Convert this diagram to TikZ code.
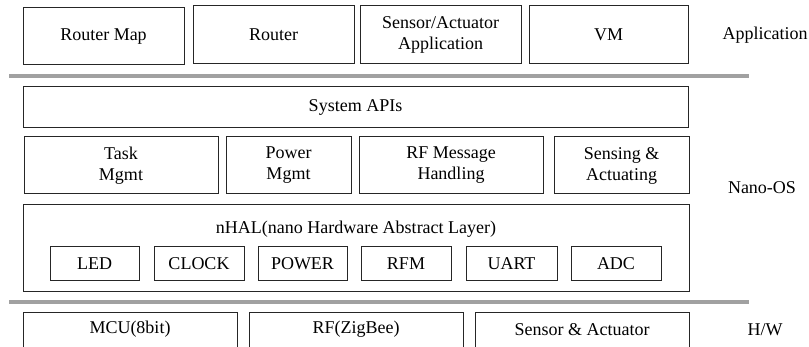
\documentclass[tikz,border=0pt]{standalone}
\usepackage{fontspec}
\setmainfont{Liberation Serif}
\begin{document}
\begin{tikzpicture}[x=1pt,y=-1pt,
  box/.style={draw=black!85,line width=1pt,inner sep=0pt,align=center,font=\fontsize{18}{21}\selectfont},
  lbl/.style={inner sep=0pt,align=center,font=\fontsize{18}{21}\selectfont},
  bar/.style={draw=black!37,line width=4pt}]
\useasboundingbox (0,0) rectangle (809,347);
\clip (0,0) rectangle (809,347);
% Application layer
\node[box,minimum width=161pt,minimum height=57pt] (rmap) at (103.5,36.5) {Router Map};
\node[box,minimum width=161pt,minimum height=58pt] (router) at (273.5,35) {Router};
\node[box,minimum width=161pt,minimum height=58pt] (saapp) at (440.5,35) {Sensor/Actuator\\Application};
\node[box,minimum width=159pt,minimum height=58pt] (vm) at (608.5,35) {VM};
\node[lbl] (lapp) at (765,35) {Application};
\coordinate (b1l) at (9,76);
\coordinate (b1r) at (749,76);
\draw[bar] (b1l) -- (b1r);
% Nano-OS
\node[box,minimum width=665pt,minimum height=41pt] (sysapi) at (355.5,107.5) {System APIs};
\node[box,minimum width=194pt,minimum height=57pt] (task) at (121,165.5) {Task\\Mgmt};
\node[box,minimum width=125pt,minimum height=57pt] (power) at (288.5,165.5) {Power\\Mgmt};
\node[box,minimum width=184pt,minimum height=57pt] (rfmsg) at (451,165.5) {RF Message\\Handling};
\node[box,minimum width=135pt,minimum height=57pt] (sens) at (621.5,165.5) {Sensing \&\\Actuating};
\node[box,minimum width=666pt,minimum height=87pt] (nhal) at (356,248.5) {};
\node[lbl] (nhalt) at (356,229) {nHAL(nano Hardware Abstract Layer)};
\node[box,minimum width=89pt,minimum height=34pt] (led) at (94.5,264) {LED};
\node[box,minimum width=90pt,minimum height=34pt] (clock) at (199,264) {CLOCK};
\node[box,minimum width=89pt,minimum height=34pt] (pwr) at (302.5,264) {POWER};
\node[box,minimum width=90pt,minimum height=34pt] (rfm) at (406,264) {RFM};
\node[box,minimum width=91pt,minimum height=34pt] (uart) at (511.5,264) {UART};
\node[box,minimum width=90pt,minimum height=34pt] (adc) at (616,264) {ADC};
\node[lbl] (lnano) at (762,188) {Nano-OS};
\coordinate (b2l) at (9,302);
\coordinate (b2r) at (749,302);
\draw[bar] (b2l) -- (b2r);
% H/W
\node[box,minimum width=214pt,minimum height=47pt] (mcu) at (130,336.5) {};
\node[box,minimum width=214pt,minimum height=47pt] (rf) at (356,336.5) {};
\node[box,minimum width=214pt,minimum height=47pt] (sa) at (582,336.5) {};
\node[lbl] (mcut) at (130,329.5) {MCU(8bit)};
\node[lbl] (rft) at (356,329.5) {RF(ZigBee)};
\node[lbl] (sat) at (582,329.5) {Sensor \& Actuator};
\node[lbl] (lhw) at (765,329.5) {H/W};
\end{tikzpicture}
\end{document}
